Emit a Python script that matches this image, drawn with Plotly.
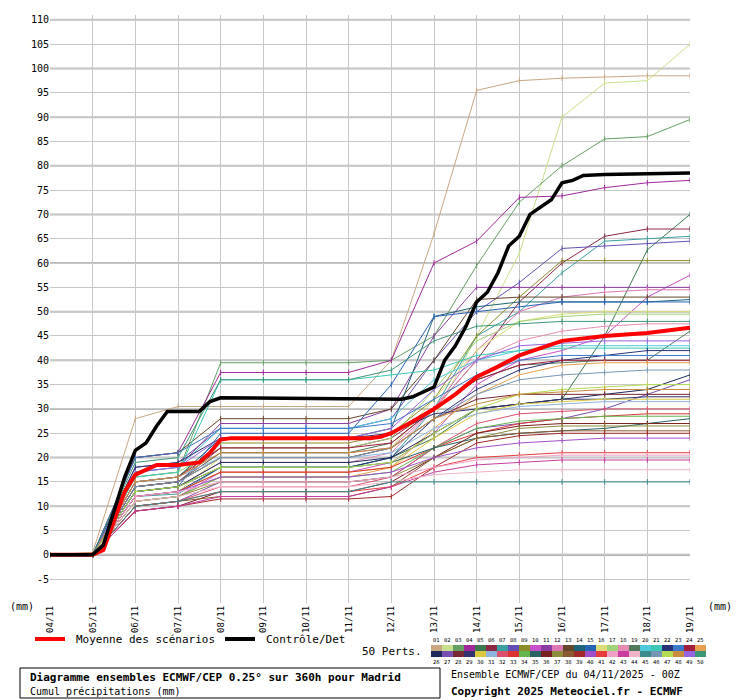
import plotly.graph_objects as go

days = ["04/11","05/11","06/11","07/11","08/11","09/11","10/11","11/11","12/11",
        "13/11","14/11","15/11","16/11","17/11","18/11","19/11"]
day_x = list(range(16))

members = [
 [0,0.5,28,30.5,30.5,30.5,30.5,30.5,40,66,95.5,97.5,98,98.3,98.5,98.5],
 [0,0,14,15,20,20,20,20,22,28,45,62,90,97,97.5,105],
 [0,0,16,17,39.5,39.5,39.5,39.5,40,45,59.5,72.5,80,85.5,86,89.5],
 [0,0,20,21,37.5,37.5,37.5,37.5,40,60,64.5,73.5,73.8,75.5,76.5,77],
 [0,0,13,14,18,18,18,18,20,24,30,31,32,45,62.7,70],
 [0,0,14,15,22,22,22,22,24,30,40,52,60,65.5,67,67],
 [0,0,12,12.5,18,18,18,18,20,30,45,50,58,64.5,65,65.5],
 [0,0,18,19,26,26,26,26,28,40,50,56,63,63.5,64,64.5],
 [0,0,15,16,23,23,23,23,25,32,45,53,60.5,60.5,60.5,60.5],
 [0,0,11,12,17,17,17,17,19,25,35,40,42,45,53,57.5],
 [0,0,17,18,27,27,27,27,30,45,55,55,55,55,55,55],
 [0,0,14,15,21,21,21,21,22,30,42,50,53,54,54.5,54.5],
 [0,0,20,21,28,28,28,28,30,40,52.5,53,53,53,53,53],
 [0,0,15,16,24,24,24,24,26,49,51,52,52,52,52,52.5],
 [0,0,13,14,25,25,25,25,35,49,50,51,52,52,52,52],
 [0,0,12,13,20,20,20,20,22,32,42,48,49.5,50,50,50],
 [0,0,16,17,22,22,22,22,24,34,44,48,49,49.5,49.5,49.5],
 [0,0,13,14,19,19,19,19,21,30,40,44,46,47,47.5,47.5],
 [0,0,14,15,21,21,21,21,23,30,36,39,39.5,40,40,46],
 [0,0,17,18,26,26,26,26,28,36,40,42,43,43,43,43],
 [0,0,16,17,36,36,36,36,37,38,41,42,42.5,42.5,42.5,42.5],
 [0,0,12,13,18,18,18,18,20,28,34,38,40,41,42,42],
 [0,0,20,21,26,26,26,26,27,32,37,40,41,41,41,41],
 [0,0,15,16,22,22,22,22,23,30,36,39,40,40,40,40],
 [0,0,11,12,16,16,16,16,18,26,33,37,39,39.5,39.5,39.5],
 [0,0,13,14,19,19,19,19,20,25,30,31,32,33,34,37],
 [0,0,10,11,15,15,15,15,16,22,26,27,28,30,33,36],
 [0,0,14,15,20,20,20,20,22,28,32,33,33,33,33,33],
 [0,0,18,19,24,24,24,24,25,29,30,31,32,32,32.5,32.5],
 [0,0,12,13,17,17,17,17,18,24,29,31,31.5,32,32,32],
 [0,0,15,16,20,20,20,20,21,26,29,30.5,31,31.5,31.5,31.5],
 [0,0,10,11,14,14,14,14,16,22,27,29,29.5,30,30,30],
 [0,0,12,13,17,17,17,17,18,22,25,27,28,28.5,29,29],
 [0,0,11,12,16,16,16,16,17,22,26,27.5,28,28.5,28.5,28.5],
 [0,0,13,14,18,18,18,18,19,22,24,25,25.5,26,27,28],
 [0,0,9,10,13,13,13,13,15,20,25,26.5,27,27,27,27],
 [0,0,11,12,15,15,15,15,16,20,24,26,26.5,26.5,26.5,26.5],
 [0,0,10,11,12,12,12,12,14,20,24,25,25.5,25.5,25.5,25.5],
 [0,0,9,10,11.5,11.5,11.5,11.5,12,18,23,24.5,25,25,25,25],
 [0,0,12,13,16,16,16,16,17,20,22,23,23.5,24,24,24],
 [0,0,10,11,13,13,13,13,14,18,20,20.5,21,21,21,21],
 [0,0,12,13,15,15,15,15,16,18,19.5,20,20.5,20.5,20.5,20.5],
 [0,0,9,10,12,12,12,12,14,17,18.5,19,19.5,19.5,19.5,19.5],
 [0,0,11,12,14,14,14,14,15,16.5,17,17.5,17.5,17.5,17.5,17.5],
 [0,0,10,11,13,13,13,13,15,15,15,15,15,15,15,15],
 [0,0,14,15,20,20,20,20,22,28,33,36,37,37.5,38,38],
 [0,0,13,14,18,18,18,18,19,25,30,33,34,34.5,35,35],
 [0,0,15,16,21,21,21,21,22,28,31,33,33.5,34,34,34],
 [0,0,17,18,24,24,24,24,26,34,40,43,43.5,44,44,44],
 [0,0,19,20,36,36,36,36,38,44,47,47.5,48,48,48,48],
]

member_colors = [
 "#c8a882","#c8e08c","#64a064","#a0289c","#3c7850","#8c2846","#3ca0a0","#6450b4",
 "#8c8c28","#c850c8","#8c3ca0","#dc78b4","#644628","#1e6478","#2864b4","#dcdc78",
 "#a0d278","#e68cb4","#50785a","#50c8dc","#3cc8b4","#283278","#3c78c8","#a01e3c",
 "#e6a050","#1e285a","#7850b4","#782832","#32326e","#dcc83c","#8cb4dc","#dc506e",
 "#dc3232","#64b450","#286464","#781e1e","#8c8c3c","#8c5a32","#a02828","#a050c8",
 "#e63c3c","#f0a0c8","#c83ca0","#f0b4c8","#3c8c8c","#7896b4","#b4dc50","#c88c3c",
 "#9664dc","#3c9678",
]

mean_x = [0,1,1.25,1.5,1.75,2,2.5,3,3.5,3.75,4,4.25,7.5,7.75,8,8.5,9,9.5,10,10.5,11,11.5,12,13,14,15]
mean_y = [0,0,1,7,13,16.5,18.5,18.5,19,21,23.7,24,24,24.3,25,27.4,30,33,36.6,38.7,41,42.5,44,45,45.6,46.7]

ctrl_x = [0,1,1.25,1.5,1.75,2,2.25,2.5,2.75,3.5,3.75,4,8,8.25,8.5,8.75,9,9.25,9.5,9.75,
          10,10.25,10.5,10.75,11,11.25,11.5,11.75,12,12.25,12.5,13,15]
ctrl_y = [0,0,2,9,16,21.5,23,26.5,29.5,29.5,31.5,32.3,32,32,32.5,33.5,34.5,40,43,47,
          52,54,58,63.5,65.5,70,71.5,73,76.5,77,78,78.2,78.5]

y_ticks = list(range(-5, 111, 5))

fig = go.Figure()
for i, m in enumerate(members):
    fig.add_trace(go.Scatter(x=day_x, y=m, mode="lines+markers",
                             line=dict(color=member_colors[i], width=1),
                             marker=dict(symbol="line-ns", size=4, color=member_colors[i],
                                         line=dict(width=1, color=member_colors[i])),
                             showlegend=False, hoverinfo="skip"))
fig.add_trace(go.Scatter(x=mean_x, y=mean_y, mode="lines", line=dict(color="#ff0000", width=4),
                         showlegend=False))
fig.add_trace(go.Scatter(x=ctrl_x, y=ctrl_y, mode="lines", line=dict(color="#000000", width=3.5),
                         showlegend=False))

for v in range(0, 111, 10):
    fig.add_shape(type="line", xref="paper", x0=0, x1=1, yref="y", y0=v, y1=v,
                  line=dict(color="#bbbbbb" if v else "#999999", width=2), layer="below")

FONT = "DejaVu Sans Mono"
OFF = 8
fig.update_layout(
    width=732, height=692, plot_bgcolor="white", paper_bgcolor="white",
    margin=dict(l=50 - OFF, r=50, t=15 - OFF, b=97, autoexpand=False),
    font=dict(family=FONT, size=10, color="#000"),
    xaxis=dict(range=[0, 15], tickmode="array", tickvals=day_x, ticktext=days,
               tickangle=-90, showgrid=True, gridcolor="#c8c8c8", gridwidth=1,
               zeroline=False, showline=False, ticks="", tickfont=dict(size=9),
               automargin=False),
    yaxis=dict(range=[-9.9, 111], tickmode="array", tickvals=y_ticks,
               ticktext=[str(v) for v in y_ticks], showgrid=True, gridcolor="#c8c8c8",
               gridwidth=1, zeroline=False, showline=False, ticks="", tickfont=dict(size=10),
               automargin=False),
)

def px(x):
    return (x - 50) / 640
def py(y):
    return (603 - y) / 588

def text(x, y, t, size=10, anchor="center"):
    fig.add_annotation(xref="paper", yref="paper", x=px(x), y=py(y), xanchor=anchor,
                       yanchor="middle", text=t, showarrow=False,
                       font=dict(size=size, family=FONT, color="#000"))

text(22, 606, "(mm)")
text(720, 606, "(mm)")

fig.add_shape(type="line", xref="paper", yref="paper", x0=px(35), x1=px(65), y0=py(639), y1=py(639),
              line=dict(color="#ff0000", width=4))
fig.add_shape(type="line", xref="paper", yref="paper", x0=px(225), x1=px(255), y0=py(639), y1=py(639),
              line=dict(color="#000000", width=4))
text(74, 639, "Moyenne des scénarios", 11, "left")
text(264, 639, "Contrôle/Det", 11, "left")
text(424, 651, "50 Perts.", 11, "right")

sq = 11.0
x0 = 431
for i in range(50):
    col = i % 25
    row = i // 25
    xa = x0 + col * sq
    ya = 645 + row * 6
    fig.add_shape(type="rect", xref="paper", yref="paper", x0=px(xa), x1=px(xa + sq),
                  y0=py(ya + 6), y1=py(ya), line=dict(width=0), fillcolor=member_colors[i])
    ylab = 640 if row == 0 else 662
    fig.add_annotation(xref="paper", yref="paper", x=px(xa + sq / 2), y=py(ylab),
                       xanchor="center", yanchor="middle", borderpad=0,
                       text=f"{i+1:02d}", showarrow=False, font=dict(size=5.5, family=FONT))

fig.add_shape(type="rect", xref="paper", yref="paper", x0=px(20), x1=px(440), y0=py(698), y1=py(668),
              line=dict(color="#000", width=1), fillcolor="white")
text(28, 677, "<b>Diagramme ensembles ECMWF/CEP 0.25° sur 360h pour Madrid</b>", 11, "left")
text(28, 691, "Cumul précipitations (mm)", 10, "left")
text(449, 674, "Ensemble ECMWF/CEP du 04/11/2025 - 00Z", 10, "left")
text(449, 691, "<b>Copyright 2025 Meteociel.fr - ECMWF</b>", 11, "left")

fig.write_html("out.html")
